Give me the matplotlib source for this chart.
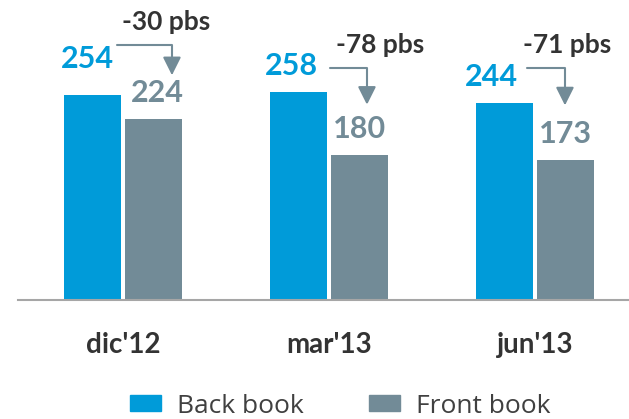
import matplotlib.pyplot as plt
from matplotlib.patches import Patch
import numpy as np

# Datos
periodos = ["dic'12", "mar'13", "jun'13"]
back_book = [254, 258, 244]
front_book = [224, 180, 173]
variacion = ['-30 pbs', '-78 pbs', '-71 pbs']

azul = '#009bd9'
gris = '#728b97'
oscuro = '#333333'

plt.rcParams['font.family'] = 'Lato'

fig = plt.figure(figsize=(6.29, 4.19), dpi=100)
ax = fig.add_axes([18 / 629, 119 / 419, 611 / 629, 300 / 419])

x = np.arange(len(periodos))
ancho = 0.277
sep = 0.15
ax.bar(x - sep, back_book, ancho, color=azul)
ax.bar(x + sep, front_book, ancho, color=gris)
ax.set_xlim(-0.51, 2.456)
ax.set_ylim(0, 371.7)

for lado in ['top', 'left', 'right']:
    ax.spines[lado].set_visible(False)
ax.spines['bottom'].set_color('#a6a6a6')
ax.spines['bottom'].set_linewidth(1.5)
ax.set_yticks([])
ax.set_xticks(x, periodos)
ax.tick_params(axis='x', length=0, pad=23, labelsize=20, labelcolor=oscuro)
for t in ax.get_xticklabels():
    t.set_fontweight('bold')

# Etiquetas de valores (desplazamientos en pixeles)
back_dx = [-5, -7, -13]
back_gap = [27, 17, 17]
front_dx = [3, 0, -1]
front_gap = [17, 17, 17]
for i in range(len(periodos)):
    ax.annotate(str(back_book[i]), xy=(x[i] - sep, back_book[i]),
                xytext=(back_dx[i] * 0.72, back_gap[i] * 0.72), textcoords='offset points',
                ha='center', va='baseline', fontsize=22, fontweight='bold', color=azul)
    ax.annotate(str(front_book[i]), xy=(x[i] + sep, front_book[i]),
                xytext=(front_dx[i] * 0.72, front_gap[i] * 0.72), textcoords='offset points',
                ha='center', va='baseline', fontsize=22, fontweight='bold', color=gris)

# Flechas de variacion (en pixeles respecto a las barras)
inicio_dx = [25, 32, 23]
nivel = [50, 24, 35]
esquina_dx = [18, 7, -1]
punta = [44, 50, 55]
pbs_dx = [-6, 13, 2]
for i in range(len(periodos)):
    bx, by = ax.transData.transform((x[i] - sep, back_book[i]))
    fx, fy = ax.transData.transform((x[i] + sep, front_book[i]))
    inicio = (bx + inicio_dx[i], by + nivel[i])
    cx = fx + esquina_dx[i]
    fin = (cx, fy + punta[i])
    ax.annotate('', xy=fin, xycoords='figure pixels', xytext=inicio, textcoords='figure pixels',
                arrowprops=dict(arrowstyle='-|>,head_length=1.1,head_width=0.55',
                                connectionstyle='angle,angleA=0,angleB=90,rad=0',
                                color=gris, lw=1.5, shrinkA=0, shrinkB=0, mutation_scale=10))
    ax.annotate(variacion[i], xy=(cx + pbs_dx[i], inicio[1] + 15), xycoords='figure pixels',
                ha='center', va='baseline', fontsize=19, fontweight='bold', color=oscuro)

handles = [Patch(color=azul, label='Back book'), Patch(color=gris, label='Front book')]
fig.legend(handles=handles, loc='center left', bbox_to_anchor=(130 / 629, 1 - 406 / 419),
           ncol=2, frameon=False, prop={'family': 'Open Sans', 'size': 19},
           handlelength=31 / 26.4, handleheight=15 / 26.4, handletextpad=16 / 26.4,
           columnspacing=65 / 26.4, borderpad=0, borderaxespad=0, labelcolor='#404040')

plt.savefig('out.png', dpi=100)
